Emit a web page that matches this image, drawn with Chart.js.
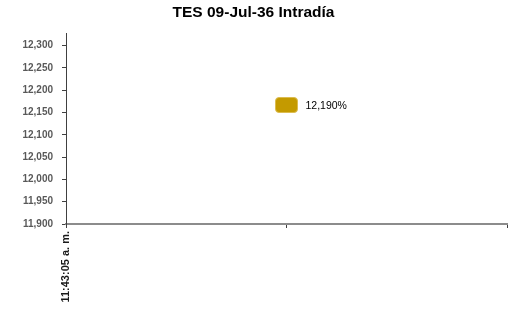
<!DOCTYPE html>
<html>
<head>
<meta charset="utf-8">
<script src="https://cdn.jsdelivr.net/npm/chart.js@4/dist/chart.umd.min.js"></script>
<style>
	html, body { margin: 0; padding: 0; background: #fff; }
	#wrap { width: 531px; height: 311px; }
</style>
</head>
<body>
<div id="wrap"><canvas id="tesChart" width="531" height="311"></canvas></div>
<script>
const chartTitle = 'TES 09-Jul-36 Intradía';
const categories = ['11:43:05 a. m.', '', ''];
const rateValues = [null, 12.167, null];
const pointLabels = [null, '12,190%', null];
const yTicks = [11.9, 11.95, 12.0, 12.05, 12.1, 12.15, 12.2, 12.25, 12.3];

// rounded golden marker like the Excel one
function makeMarker() {
	const c = document.createElement('canvas');
	c.width = 23;
	c.height = 16;
	const g = c.getContext('2d');
	g.fillStyle = '#c49a00';
	g.beginPath();
	g.roundRect(0.5, 0.5, 22, 15, 3.5);
	g.fill();
	g.strokeStyle = '#dcbc50';
	g.lineWidth = 1;
	g.stroke();
	return c;
}

const pointLabelPlugin = {
	id: 'pointLabels',
	afterDatasetsDraw(chart) {
		const ctx = chart.ctx;
		const meta = chart.getDatasetMeta(0);
		ctx.save();
		ctx.font = '10.5px "Liberation Sans", Arial, sans-serif';
		ctx.fillStyle = '#000';
		ctx.textAlign = 'left';
		ctx.textBaseline = 'middle';
		meta.data.forEach((pt, i) => {
			if (pointLabels[i] && !pt.skip) {
				ctx.fillText(pointLabels[i], pt.x + 19, pt.y + 1);
			}
		});
		ctx.restore();
	},
};

const ctx = document.getElementById('tesChart').getContext('2d');
new Chart(ctx, {
	type: 'line',
	data: {
		labels: categories,
		datasets: [
			{
				label: 'TES',
				data: rateValues,
				showLine: false,
				pointStyle: makeMarker(),
				pointRadius: 8,
				pointHoverRadius: 8,
			},
		],
	},
	options: {
		responsive: false,
		animation: false,
		layout: { padding: { top: 0, right: 24, bottom: 0, left: 0 } },
		plugins: {
			legend: { display: false },
			tooltip: { enabled: false },
			title: {
				display: true,
				text: chartTitle,
				color: '#000',
				font: { family: '"Liberation Sans", Arial, sans-serif', size: 15.5, weight: 'bold' },
				padding: { top: 3, bottom: 12 },
			},
		},
		scales: {
			x: {
				type: 'category',
				offset: false,
				grid: { drawOnChartArea: false, tickLength: 4, color: '#404040' },
				border: { color: '#8c8c8c', width: 2 },
				ticks: {
					autoSkip: false,
					maxRotation: 90,
					minRotation: 90,
					padding: 3,
					color: '#1a1a1a',
					font: { family: '"Liberation Sans", Arial, sans-serif', size: 11, weight: 'bold' },
				},
				afterFit: (scale) => { scale.height = 87; },
			},
			y: {
				min: 11.9,
				max: 12.327,
				grid: { drawOnChartArea: false, tickLength: 4, color: '#404040' },
				border: { color: '#404040', width: 1 },
				afterBuildTicks: (scale) => {
					scale.ticks = yTicks.map((value) => ({ value }));
				},
				ticks: {
					padding: 9,
					color: '#595959',
					font: { family: '"Liberation Sans", Arial, sans-serif', size: 10, weight: 'bold' },
					callback: (v) => v.toFixed(3).replace('.', ','),
				},
				afterFit: (scale) => { scale.width = 66; },
			},
		},
	},
	plugins: [pointLabelPlugin],
});
</script>
</body>
</html>
